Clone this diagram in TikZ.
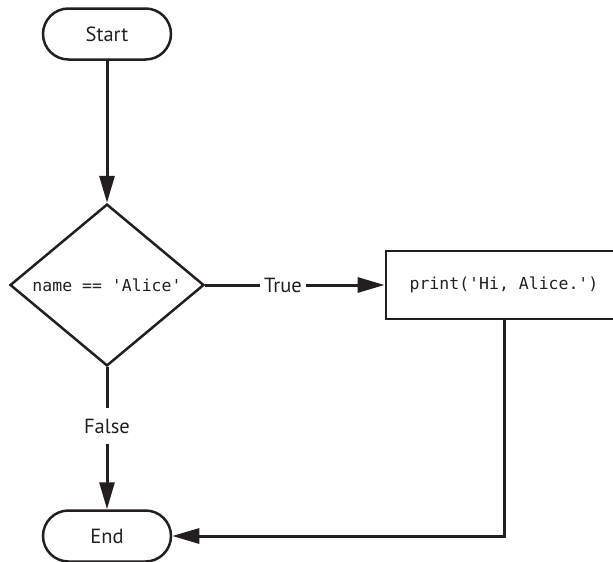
\documentclass[tikz,border=0pt]{standalone}
\usepackage{fontspec}
\setmainfont{PT Sans}
\setmonofont{DejaVu Sans Mono}
\usetikzlibrary{shapes.geometric,shapes.misc,arrows.meta}
\definecolor{ink}{HTML}{231F20}
\tikzset{
  every node/.style={text=ink},
  terminal/.style={rounded rectangle, draw=ink, line width=2.5pt, minimum width=128pt, minimum height=51pt, inner sep=0pt, font=\fontsize{20.5}{24}\selectfont},
  decision/.style={diamond, draw=ink, line width=2.5pt, minimum width=194pt, minimum height=161pt, inner sep=0pt, font=\ttfamily\fontsize{16.5}{20}\selectfont},
  process/.style={rectangle, draw=ink, line width=2.8pt, minimum width=236pt, minimum height=68pt, inner sep=0pt, font=\ttfamily\fontsize{16.5}{20}\selectfont},
  edgelabel/.style={inner sep=0pt, font=\fontsize{20.5}{24}\selectfont},
  conn/.style={draw=ink, line width=3pt},
  arrowconn/.style={conn, -{Triangle[length=27pt,width=15pt]}},
}
\begin{document}
\begin{tikzpicture}[x=1pt,y=-1pt]
\useasboundingbox (0,0) rectangle (613,562);
\clip (0,0) rectangle (613,562);
\node[terminal] (start) at (107,34) {Start};
\node[decision] (dec) at (107,285) {name == 'Alice'};
\node[process] (box) at (504,285) {print('Hi, Alice.')};
\node[terminal] (end) at (107,536) {End};
\node[edgelabel, minimum width=45pt] (true) at (283,285) {True};
\node[edgelabel, minimum height=36pt] (false) at (107,426) {False};
\draw[arrowconn] (start.south) -- (dec.north);
\draw[conn] (dec.east) -- (true.west);
\draw[arrowconn] (true.east) -- (box.west);
\draw[conn] (dec.south) -- (false.north);
\draw[arrowconn] (false.south) -- (end.north);
\draw[arrowconn] (box.south) |- (end.east);
\end{tikzpicture}
\end{document}
